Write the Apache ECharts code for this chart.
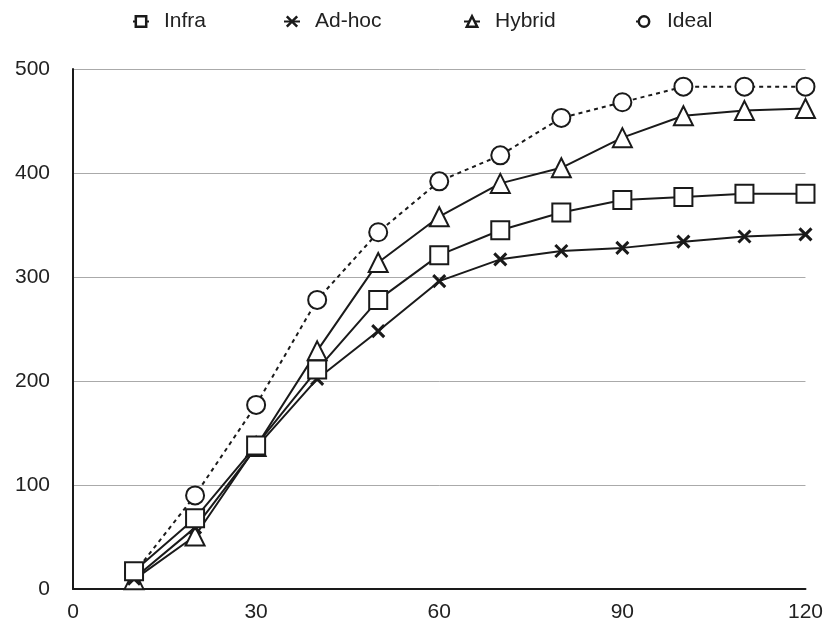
<!DOCTYPE html>
<html>
<head>
    <meta charset="utf-8">
    <title>ECharts</title>
    <script src="https://cdn.jsdelivr.net/npm/echarts@6/dist/echarts.min.js"></script>
</head>
<body style="margin:0">
    <div id="main" style="width: 826px;height:626px;"></div>
    <script type="text/javascript">
var xValues = [10, 20, 30, 40, 50, 60, 70, 80, 90, 100, 110, 120];
var infra  = [17, 68, 138, 211, 278, 321, 345, 362, 374, 377, 380, 380];
var adhoc  = [10, 59, 136, 202, 248, 296, 317, 325, 328, 334, 339, 341];
var hybrid = [9, 51, 137, 229, 314, 358, 390, 405, 434, 455, 460, 462];
var ideal  = [15, 90, 177, 278, 343, 392, 417, 453, 468, 483, 483, 483];

function pairs(ys) {
    return xValues.map(function (x, i) { return [x, ys[i]]; });
}

var ink = '#1a1a1a';
var crossPath = 'path://M0,0L10,10M10,0L0,10';
var labelFont = { fontSize: 21, color: '#222', fontFamily: 'Liberation Sans' };

// one legend per entry so each can sit where the original has it
function legendAt(name, left) {
    return {
        data: [name],
        left: left,
        top: 6,
        itemWidth: 16,
        itemHeight: 13,
        itemStyle: { borderWidth: 2.5 },
        textStyle: Object.assign({ padding: [0, 0, 0, 10] }, labelFont)
    };
}

function series(name, ys, symbol, size, dashed, z) {
    return {
        name: name,
        type: 'line',
        data: pairs(ys),
        symbol: symbol,
        symbolSize: size,
        z: z,
        lineStyle: { color: ink, width: 2, type: dashed ? [4, 4] : 'solid' },
        itemStyle: { color: '#fff', borderColor: ink, borderWidth: symbol === crossPath ? 3 : 2 }
    };
}

var myChart = echarts.init(document.getElementById('main'));

var option = {
    animation: false,
    backgroundColor: '#fff',
    legend: [
        legendAt('Infra', 127),
        legendAt('Ad-hoc', 278),
        legendAt('Hybrid', 458),
        legendAt('Ideal', 630)
    ],
    grid: { left: 73, right: 18, top: 69, bottom: 37 },
    xAxis: {
        type: 'value',
        min: 0,
        max: 120,
        interval: 30,
        axisLine: { lineStyle: { color: ink, width: 2 } },
        axisTick: { show: false },
        splitLine: { show: false },
        axisLabel: Object.assign({ margin: 13 }, labelFont)
    },
    yAxis: {
        type: 'value',
        min: 0,
        max: 500,
        interval: 100,
        axisLine: { show: true, lineStyle: { color: ink, width: 2 } },
        axisTick: { show: false },
        splitLine: { lineStyle: { color: '#aaa', width: 1 } },
        axisLabel: Object.assign({ margin: 23 }, labelFont)
    },
    series: [
        series('Ideal', ideal, 'circle', 18, true, 2),
        series('Hybrid', hybrid, 'triangle', 19, false, 3),
        series('Ad-hoc', adhoc, crossPath, 12, false, 4),
        series('Infra', infra, 'rect', 18, false, 5)
    ]
};

myChart.setOption(option);
    </script>
</body>
</html>
